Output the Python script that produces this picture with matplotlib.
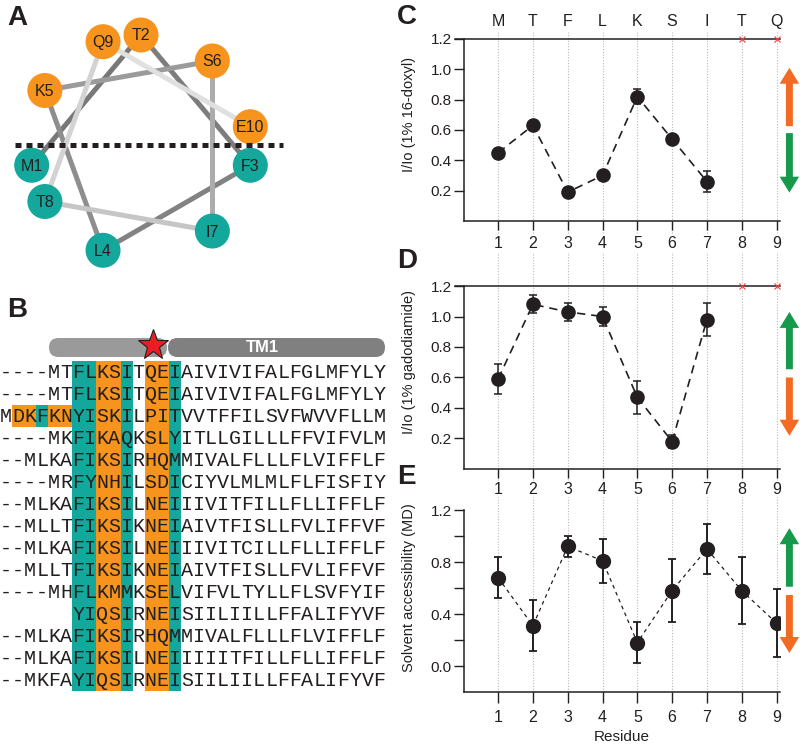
import numpy as np
import matplotlib
matplotlib.use("Agg")
import matplotlib.pyplot as plt
from matplotlib.patches import Circle, FancyBboxPatch, Rectangle

plt.rcParams['font.family'] = ['Liberation Sans', 'DejaVu Sans']

ORANGE = '#f7941d'
TEAL = '#14a89c'
ARROW_ORANGE = '#f26a24'
ARROW_GREEN = '#16994a'
INK = '#231f20'

# --- panel A: helical wheel ---
wheel_res = ['M1', 'T2', 'F3', 'L4', 'K5', 'S6', 'I7', 'T8', 'Q9', 'E10']
wheel_polar = [False, True, False, False, True, True, False, False, True, True]
link_grey = ['#787878', '#7d7d7d', '#828282', '#8e8e8e', '#9b9b9b',
             '#acacac', '#c6c6c6', '#d3d3d3', '#e0e0e0']

# --- panel B: alignment ---
seqs = [
    "----MTFLKSITQEIAIVIVIFALFGLMFYLY",
    "----MTFLKSITQEIAIVIVIFALFGLMFYLY",
    "MDKFKNYISKILPITVVTFFILSVFWVVFLLM",
    "----MKFIKAQKSLYITLLGILLLFFVIFVLM",
    "--MLKAFIKSIRHQMMIVALFLLLFLVIFFLF",
    "----MRFYNHILSDICIYVLMLMLFLFISFIY",
    "--MLKAFIKSILNEIIIVITFILLFLLIFFLF",
    "--MLLTFIKSIKNEIAIVTFISLLFVLIFFVF",
    "--MLKAFIKSILNEIIIVITCILLFLLIFFLF",
    "--MLLTFIKSIKNEIAIVTFISLLFVLIFFVF",
    "----MHFLKMMKSELVIFVLTYLLFLSVFYIF",
    "      YIQSIRNEISIILIILLFFALIFYVF",
    "--MLKAFIKSIRHQMMIVALFLLLFLVIFFLF",
    "--MLKAFIKSILNEIIIIITFILLFLLIFFLF",
    "--MKFAYIQSIRNEISIILIILLFFALIFYVF",
]
teal_cols = [6, 7, 10, 14]
orange_cols = [8, 9, 12, 13]
row3_teal = [3]
row3_orange = [1, 2, 4, 5]

# --- panels C, D, E ---
residues = [1, 2, 3, 4, 5, 6, 7, 8, 9]
res_letters = ['M', 'T', 'F', 'L', 'K', 'S', 'I', 'T', 'Q']
missing = [8, 9]
c_val = [0.45, 0.63, 0.19, 0.30, 0.82, 0.54, 0.26]
c_err = [0.01, 0.02, 0.01, 0.01, 0.05, 0.02, 0.07]
d_val = [0.59, 1.08, 1.03, 1.00, 0.47, 0.18, 0.98]
d_err = [0.10, 0.06, 0.06, 0.06, 0.11, 0.045, 0.11]
e_val = [0.68, 0.31, 0.92, 0.81, 0.18, 0.58, 0.90, 0.58, 0.33]
e_err = [0.155, 0.195, 0.08, 0.17, 0.16, 0.24, 0.19, 0.26, 0.26]

fig = plt.figure(figsize=(8, 7.45), dpi=100)

# overlay in pixel units for A, B and the panel letters
ov = fig.add_axes([0, 0, 1, 1])
ov.set_xlim(0, 800)
ov.set_ylim(745, 0)
ov.axis('off')

# helical wheel: 100 degrees per residue
cx, cy, rad = 141, 146, 111
ang = np.deg2rad(190 - 100 * np.arange(len(wheel_res)))
wx = cx + rad * np.cos(ang)
wy = cy - rad * np.sin(ang)
for i in range(len(wheel_res) - 1):
    ov.plot(wx[i:i + 2], wy[i:i + 2], color=link_grey[i], lw=3.6,
            solid_capstyle='butt', zorder=2)
n = len(wheel_res)
for i in range(n):
    z = 3 + (n - i) * 0.1
    ov.add_patch(Circle((wx[i], wy[i]), 17.5, fc=ORANGE if wheel_polar[i] else TEAL,
                        ec='none', zorder=z))
    ov.text(wx[i], wy[i] + 1, wheel_res[i], ha='center', va='center',
            fontsize=11.5, color=INK, zorder=z + 0.05)
ov.plot([15, 283], [145, 145], color=INK, lw=3.6, dashes=(1.2, 1.0), zorder=5)

# alignment
cw = 12.05
row0, dy = 372, 22.0
top, bot = row0 - 11, row0 + dy * (len(seqs) - 1) + 11
for c in teal_cols:
    ov.add_patch(Rectangle((c * cw, top), cw, bot - top, fc=TEAL, ec='none', zorder=1))
for c in orange_cols:
    ov.add_patch(Rectangle((c * cw, top), cw, bot - top, fc=ORANGE, ec='none', zorder=1))
for c in row3_teal:
    ov.add_patch(Rectangle((c * cw, row0 + 2 * dy - 11), cw, 22, fc=TEAL, ec='none', zorder=1))
for c in row3_orange:
    ov.add_patch(Rectangle((c * cw, row0 + 2 * dy - 11), cw, 22, fc=ORANGE, ec='none', zorder=1))
for ri, s in enumerate(seqs):
    for ci, ch in enumerate(s):
        if ch != ' ':
            ov.text(ci * cw + cw / 2, row0 + ri * dy + 5.5, ch, family='Liberation Mono',
                    fontsize=14.4, ha='center', va='baseline', color=INK, zorder=2)

ov.add_patch(FancyBboxPatch((49, 338), 118, 19, boxstyle='round,pad=0,rounding_size=9.5',
                            fc='#9a9a9a', ec='none', zorder=2))
ov.add_patch(FancyBboxPatch((168, 338), 217, 19, boxstyle='round,pad=0,rounding_size=9.5',
                            fc='#808080', ec='none', zorder=2))
ov.text(262, 348, 'TM1', color='white', fontweight='bold', fontsize=12,
        ha='center', va='center', zorder=3)
ov.plot(153, 345, marker='*', ms=23, mfc='#ed1c24', mec=INK, mew=0.8, zorder=4)

for lab, x, y in [('A', 7, 25), ('B', 7, 317), ('C', 397, 24), ('D', 397, 268), ('E', 397, 484)]:
    ov.text(x, y, lab, fontsize=20, fontweight='bold', va='baseline', color=INK)


def style_axes(ax, ylo, yticks, ylabels, ylab, label_y, tick_len):
    ax.set_xlim(0.02, 9.1)
    ax.set_ylim(ylo, 1.2)
    ax.set_yticks(yticks)
    ax.set_yticklabels(ylabels)
    ax.set_xticks(residues)
    for sp in ['right', 'top']:
        ax.spines[sp].set_visible(False)
    for sp in ['left', 'bottom']:
        ax.spines[sp].set_linewidth(1.1)
        ax.spines[sp].set_color(INK)
    ax.tick_params(axis='y', direction='out', length=7.2, width=1.0, pad=1.5,
                   labelsize=11, colors=INK)
    ax.tick_params(axis='x', direction='out', length=tick_len, width=1.0, pad=4,
                   labelsize=11.5, colors=INK)
    ax.set_ylabel(ylab, fontsize=10.5, color=INK)
    ax.yaxis.set_label_coords(-0.152, label_y)
    ax.patch.set_alpha(0)


def arrow(ax, y0, y1, color, hl):
    ax.arrow(9.37, y0, 0, y1 - y0, width=0.2, head_width=0.56, head_length=hl,
             length_includes_head=True, fc=color, ec='none', clip_on=False)


rect_w = 0.395
axC = fig.add_axes([0.58, 0.7034, rect_w, 0.2443])
axD = fig.add_axes([0.58, 0.3705, rect_w, 0.2456])
axE = fig.add_axes([0.58, 0.0711, rect_w, 0.2443])

ticks6 = [0.2, 0.4, 0.6, 0.8, 1.0, 1.2]
lab6 = ['%.1f' % t for t in ticks6]
for ax, vals, errs, ylab, vlo, vhi in [
        (axC, c_val, c_err, 'I/Io (1% 16-doxyl)', -0.08, 1.245),
        (axD, d_val, d_err, 'I/Io (1% gadodiamide)', -0.07, 1.42)]:
    style_axes(ax, 0, ticks6, lab6, ylab, 0.7 / 1.2, 6.5)
    ax.vlines(residues, vlo, vhi, colors='#b8b8b8', linestyles=(0, (1, 1.5)), lw=0.8,
              clip_on=False, zorder=0)
    ax.axhline(1.2, xmin=-0.03, xmax=1.0, color=INK, lw=1.1, clip_on=False)
    ax.plot(residues[:len(vals)], vals, color=INK, lw=1.2, dashes=(5, 3.5), zorder=2)
    ax.errorbar(residues[:len(vals)], vals, yerr=errs, fmt='o', color=INK, ms=9.5,
                elinewidth=1.1, capsize=2.8, capthick=1.1, zorder=3)
    ax.plot(missing, [1.2] * len(missing), 'x', color='#ef4040', ms=5, mew=0.8,
            clip_on=False, zorder=4)

secC = axC.secondary_xaxis('top')
secC.set_xticks(residues)
secC.set_xticklabels(res_letters)
secC.tick_params(length=0, pad=7, labelsize=11.5, colors=INK)
secC.spines['top'].set_visible(False)
axD.tick_params(axis='x', pad=3)

arrow(axC, 0.625, 1.01, ARROW_ORANGE, 0.105)
arrow(axC, 0.579, 0.187, ARROW_GREEN, 0.105)
arrow(axD, 0.654, 1.03, ARROW_GREEN, 0.105)
arrow(axD, 0.600, 0.218, ARROW_ORANGE, 0.105)

ticks8 = [0.0, 0.2, 0.4, 0.6, 0.8, 1.0, 1.2]
lab8 = ['0.0', '', '0.4', '', '0.8', '', '1.2']
style_axes(axE, -0.2, ticks8, lab8, 'Solvent accessibility (MD)', 0.8 / 1.4, 7.8)
axE.spines['left'].set_bounds(-0.2, 1.2)
axE.tick_params(axis='x', pad=5)
axE.vlines(residues, -0.2, 1.3, colors='#b8b8b8', linestyles=(0, (1, 1.5)), lw=0.8,
           clip_on=False, zorder=0)
axE.plot(residues, e_val, color=INK, lw=0.9, dashes=(3, 3), zorder=2)
axE.errorbar(residues, e_val, yerr=e_err, fmt='o', color=INK, ms=10,
             elinewidth=1.4, capsize=2.8, capthick=1.3, zorder=3)
axE.set_xlabel('Residue', fontsize=11, color=INK, labelpad=4)
arrow(axE, 0.61, 1.06, ARROW_GREEN, 0.123)
arrow(axE, 0.546, 0.10, ARROW_ORANGE, 0.123)

fig.savefig('out.png', dpi=100)
